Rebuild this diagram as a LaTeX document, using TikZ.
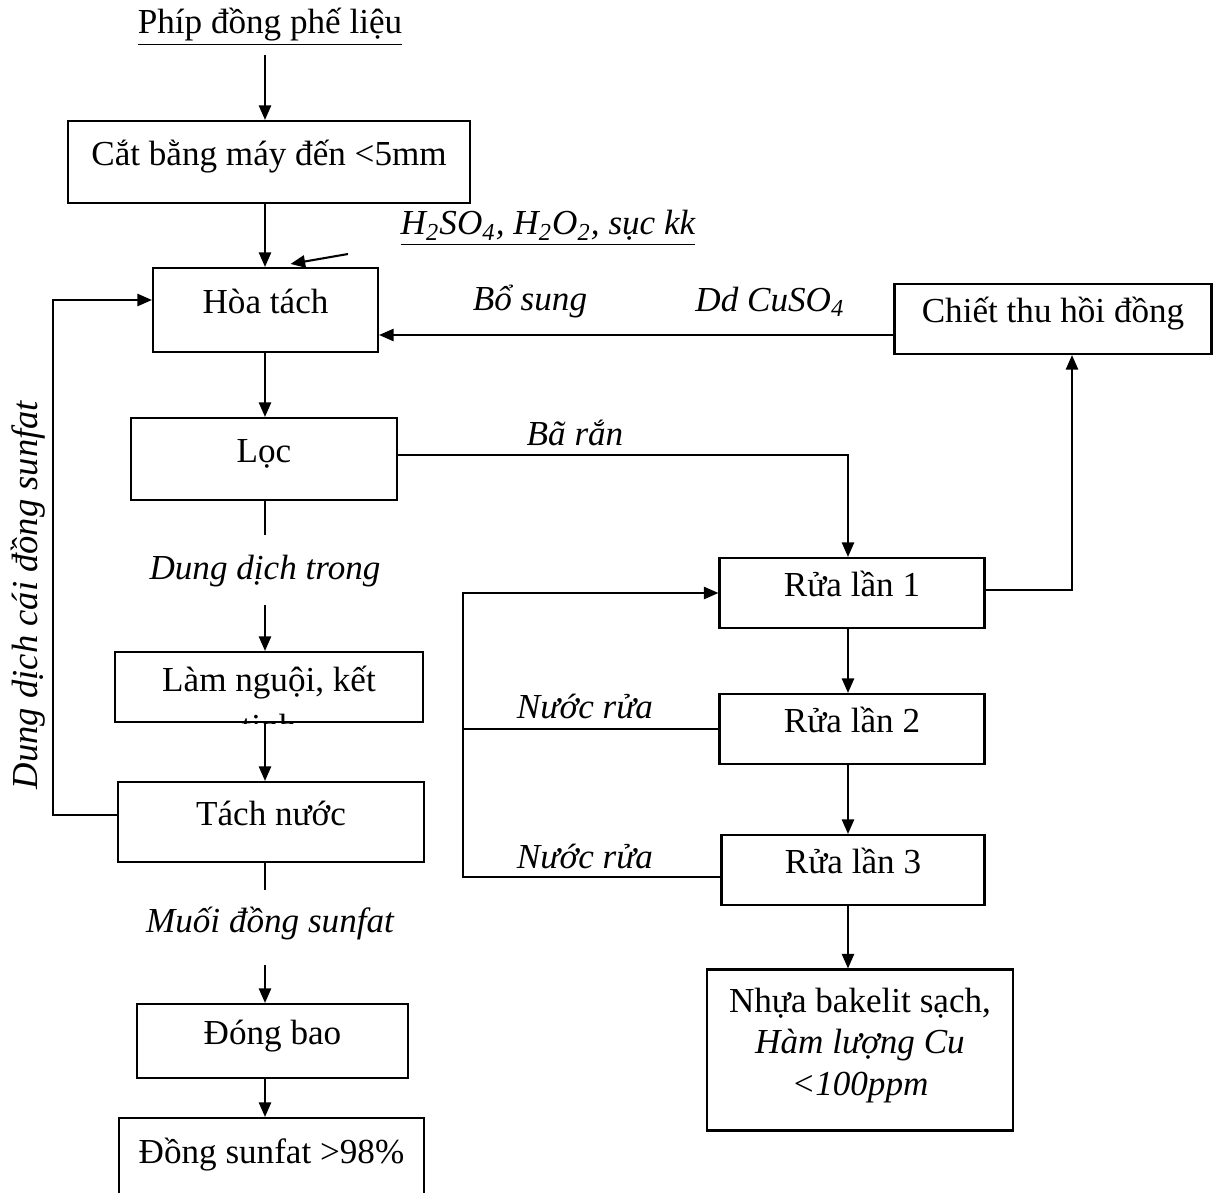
\documentclass[tikz,border=0pt]{standalone}
\usepackage{fontspec}
\setmainfont{Liberation Serif}
\usetikzlibrary{arrows.meta,calc,positioning}
\newcommand{\flowfont}{\fontsize{14.4}{17}\selectfont}

\begin{document}
\begin{tikzpicture}[x=0.41pt, y=-0.41pt, line width=0.85pt,
 ->, >={Triangle[length=6pt,width=5pt]},
 procbox/.style={draw, font=\flowfont, text height=10pt, text depth=7pt, inner sep=0pt},
 sized/.style 2 args={minimum width=#1*0.41pt, minimum height=#2*0.41pt},
 note/.style={font=\flowfont\itshape, inner sep=1pt}]
 \clip (0,0) rectangle (1218,1192);
 \coordinate (col) at (265,0);
 \coordinate (col2) at (848,0);
 \coordinate (wash) at (463,0);

 % left column
 \node[font=\flowfont] (scrap) at (270,27) {\underline{Phíp đồng phế liệu}};
 \node[procbox, sized={402}{82}] (cut) at (269,162) {Cắt bằng máy đến <5mm};
 \node[note] (acid) at (548,228) {\underline{H\textsubscript{2}SO\textsubscript{4}, H\textsubscript{2}O\textsubscript{2}, sục kk}};
 \node[procbox, sized={225}{84}] (hoa) at (265.5,310) {Hòa tách};
 \node[procbox, sized={266}{82}] (loc) at (264,459) {Lọc};
 \node[note] (soln) at (265,571) {Dung dịch trong};
 \node[procbox, sized={308}{70}] (lam) at (269,687) {};
 \begin{scope}
  \clip (lam.south west) rectangle (lam.north east);
  \node[font=\flowfont, align=center, anchor=base] (lamtxt) at (269,738) {Làm nguội, kết\\[2pt]tinh};
 \end{scope}
 \node[procbox, sized={306}{80}] (tach) at (271,822) {Tách nước};
 \node[note] (salt) at (270,924) {Muối đồng sunfat};
 \node[procbox, sized={271}{74}] (dong) at (272.5,1041) {Đóng bao};
 \node[procbox, sized={305}{84}] (cuso) at (271.5,1160) {Đồng sunfat >98\%};
 \node[note, font=\fontsize{15}{18}\selectfont\itshape, rotate=90] (mother) at (28,595) {Dung dịch cái đồng sunfat};

 % right column
 \node[procbox, sized={317}{70}] (chiet) at (1053,319) {Chiết thu hồi đồng};
 \node[note] (bosung) at (530,302) {Bổ sung};
 \node[note] (ddcu) at (770,302) {Dd CuSO\textsubscript{4}};
 \node[note] (bar) at (575,433) {Bã rắn};
 \node[procbox, sized={265}{70}] (rua1) at (852,593) {Rửa lần 1};
 \node[procbox, sized={265}{70}] (rua2) at (852,729) {Rửa lần 2};
 \node[procbox, sized={263}{70}] (rua3) at (853,870) {Rửa lần 3};
 \node[note] (wash1) at (585,706) {Nước rửa};
 \node[note] (wash2) at (585,856) {Nước rửa};
 \node[draw, font=\flowfont, align=center, sized={306}{161}, inner ysep=0pt, text depth=7pt] (nhua) at (860,1050)
  {Nhựa bakelit sạch,\\ \textit{Hàm lượng Cu}\\ \textit{<100ppm}};

 % main flow
 \coordinate (acidtail) at (348,254);
 \coordinate (solntop) at (265,535);
 \coordinate (solnbot) at (265,605);
 \coordinate (salttop) at (265,890);
 \coordinate (saltbot) at (265,965);
 \draw (scrap.south -| col) -- (cut.north -| col);
 \draw (cut.south -| col) -- (hoa.north -| col);
 \draw (acidtail) -- ($(hoa.north)+(25,-3)$);
 \draw (hoa.south -| col) -- (loc.north -| col);
 \draw[-] (loc.south -| col) -- (solntop);
 \draw (solnbot) -- (lam.north -| col);
 \draw (lam.south -| col) -- (tach.north -| col);
 \draw[-] (tach.south -| col) -- (salttop);
 \draw (saltbot) -- (dong.north -| col);
 \draw (dong.south -| col) -- (cuso.north -| col);

 % recycle loops
 \coordinate (motherout) at ($(tach.west)+(0,-7)$);
 \coordinate (motherin) at ($(hoa.west)+(0,-10)$);
 \draw (motherout) -- (motherout -| 53,0) |- (motherin);
 \coordinate (back) at ($(chiet.west)+(0,16)$);
 \draw (back) -- (back -| hoa.east);
 \draw ($(loc.east)+(0,-4)$) -| (rua1.north -| col2);
 \coordinate (up) at ($(chiet.south)+(19,0)$);
 \draw ($(rua1.east)+(0,-3)$) -| (up);
 \draw (rua1.south -| col2) -- (rua2.north -| col2);
 \draw (rua2.south -| col2) -- (rua3.north -| col2);
 \draw (rua3.south -| col2) -- (nhua.north -| col2);
 \coordinate (washout) at ($(rua3.west)+(0,7)$);
 \draw (washout) -- (washout -| wash) |- (rua1.west);
 \draw[-] (rua2.west) -- (rua2.west -| wash);
\end{tikzpicture}
\end{document}
